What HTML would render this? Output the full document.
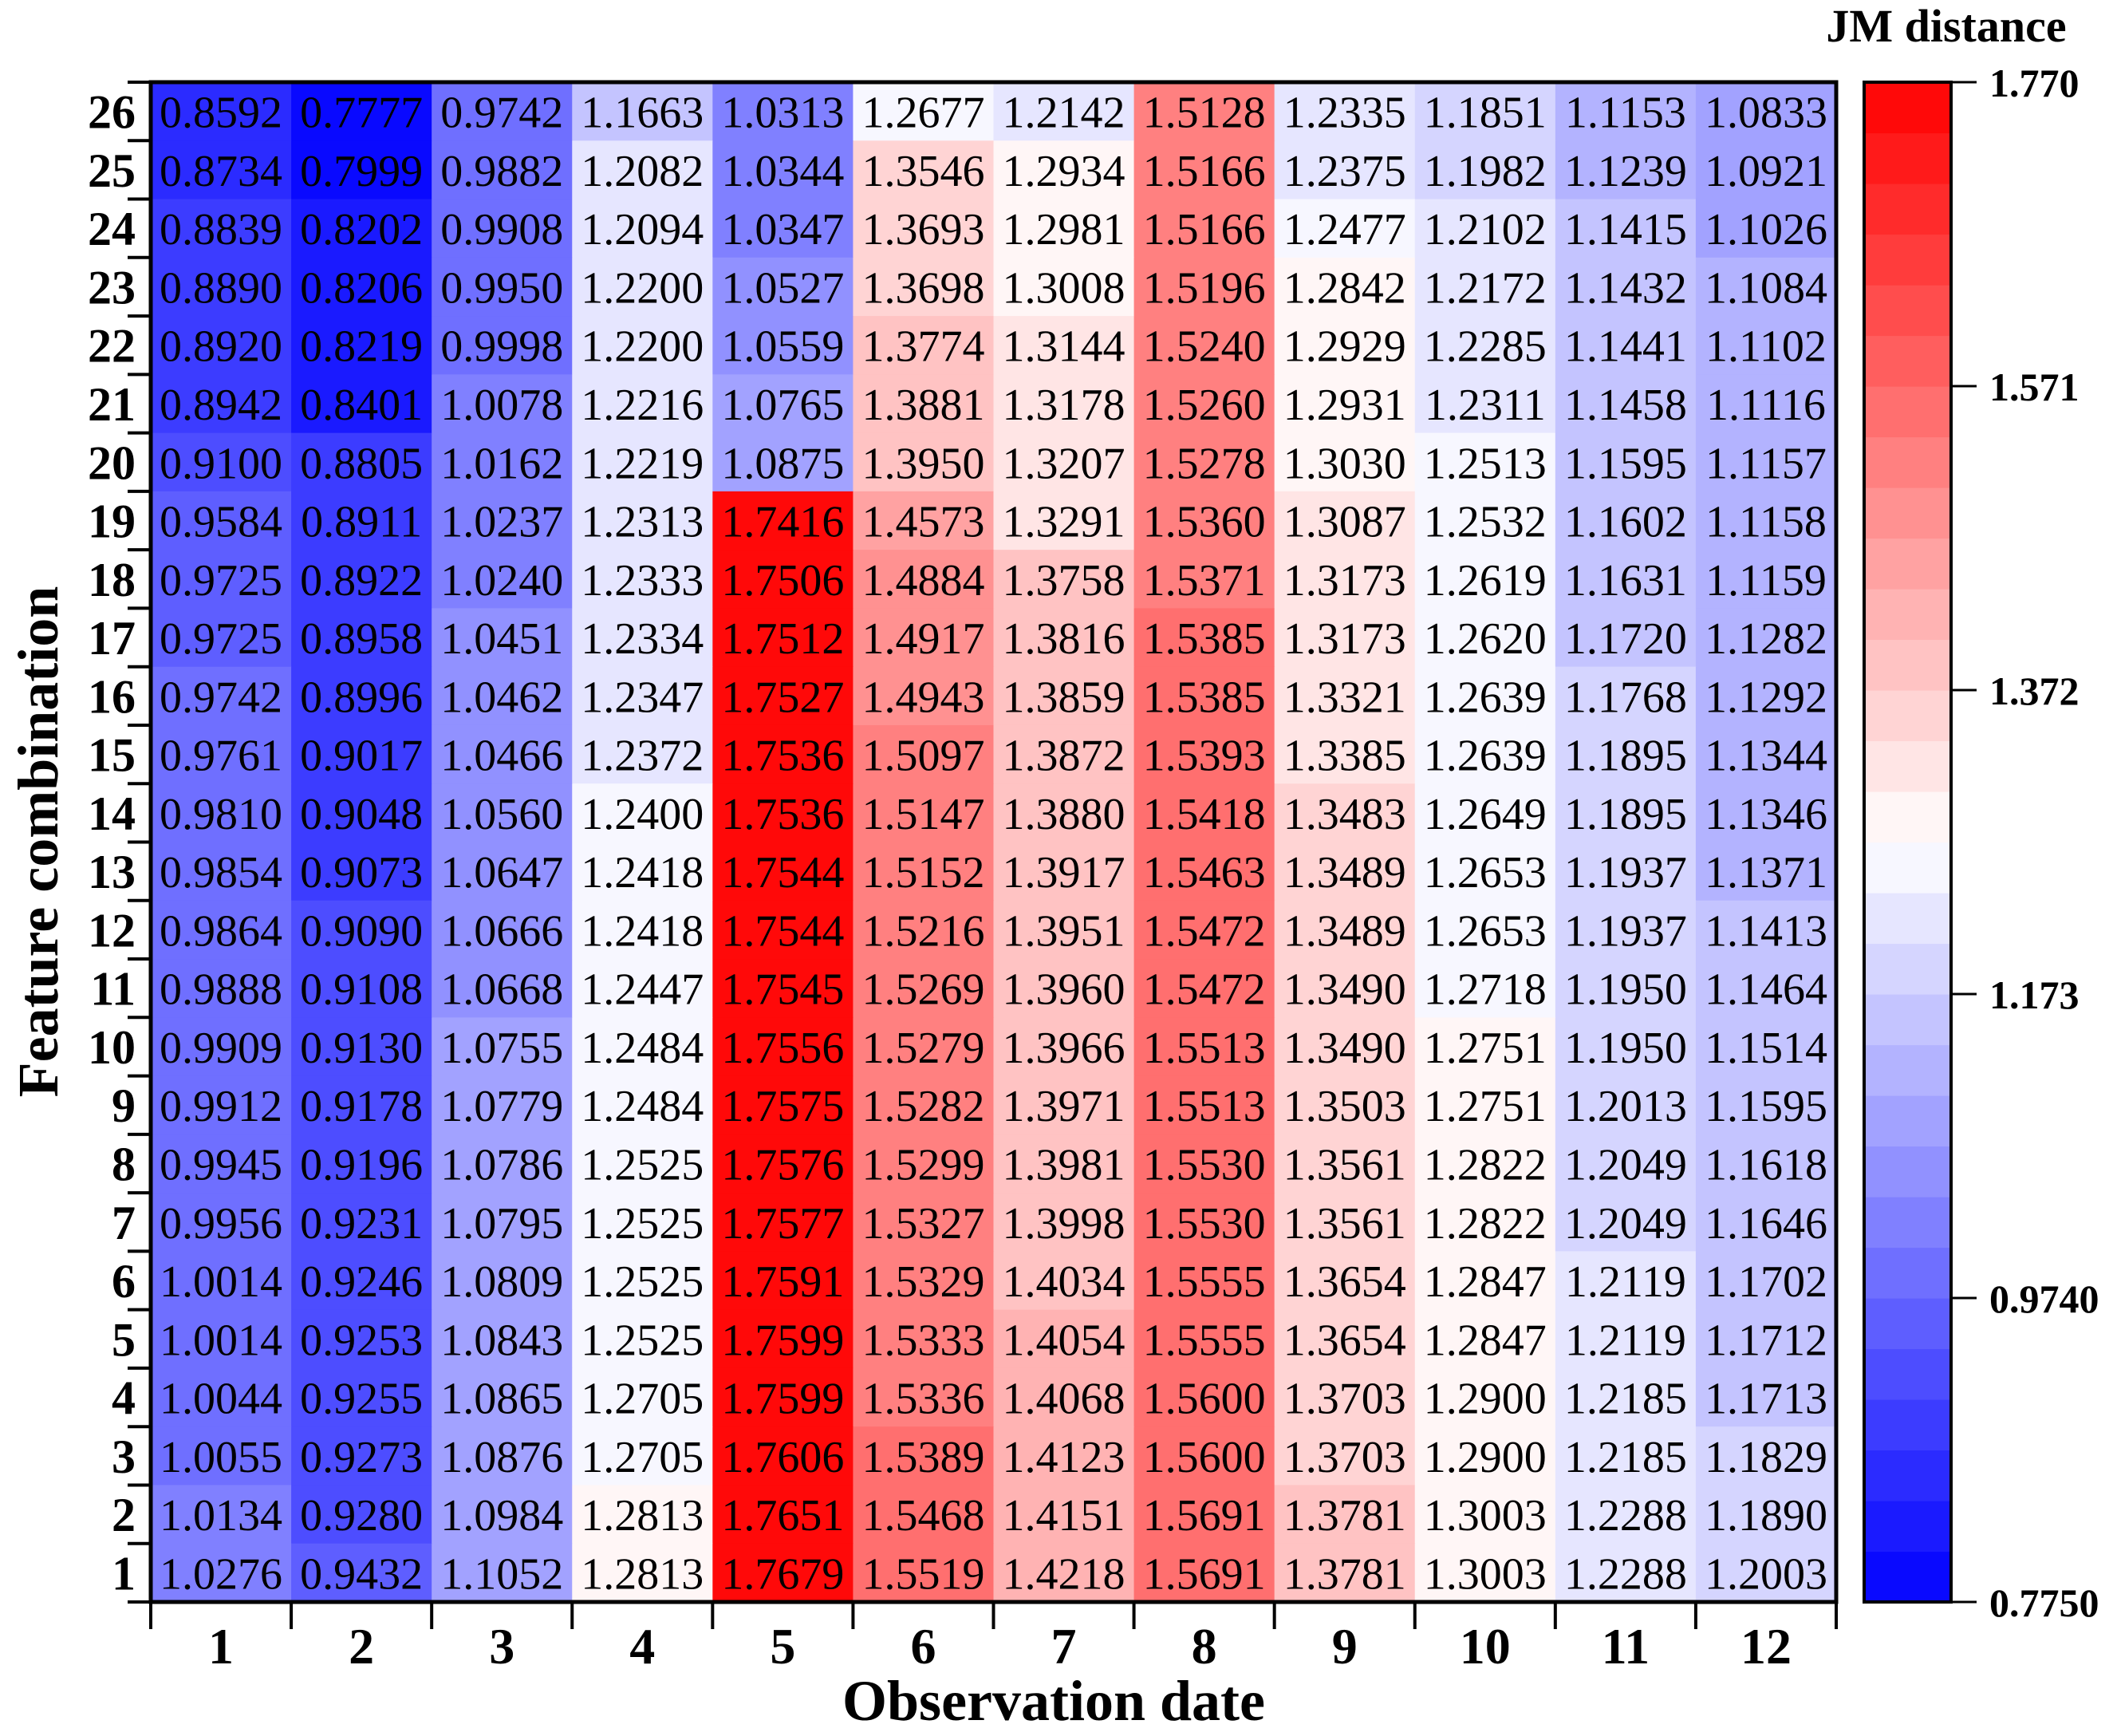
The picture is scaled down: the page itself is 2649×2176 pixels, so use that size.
<!DOCTYPE html>
<html><head><meta charset="utf-8">
<style>
html,body{margin:0;padding:0;background:#fff;}
svg{display:block;font-family:"Liberation Serif",serif;}
</style></head>
<body>
<svg id="chart" width="2649" height="2176" viewBox="0 0 2649 2176" xmlns="http://www.w3.org/2000/svg">
<g id="cells"></g>
<g id="labels"></g>
<g id="axes"></g>
<g id="cbar"></g>
<text x="1321" y="2156" font-size="72" font-weight="bold" text-anchor="middle">Observation date</text>
<text transform="translate(72,1055) rotate(-90)" font-size="72" font-weight="bold" text-anchor="middle">Feature combination</text>
<text x="2440" y="52" font-size="58" font-weight="bold" text-anchor="middle">JM distance</text>
</svg>
<script>
// Rows from top (26) to bottom (1)
const rowLabels = [26,25,24,23,22,21,20,19,18,17,16,15,14,13,12,11,10,9,8,7,6,5,4,3,2,1];
const colLabels = [1,2,3,4,5,6,7,8,9,10,11,12];
const r26=[0.8592,0.7777,0.9742,1.1663,1.0313,1.2677,1.2142,1.5128,1.2335,1.1851,1.1153,1.0833];
const r25=[0.8734,0.7999,0.9882,1.2082,1.0344,1.3546,1.2934,1.5166,1.2375,1.1982,1.1239,1.0921];
const r24=[0.8839,0.8202,0.9908,1.2094,1.0347,1.3693,1.2981,1.5166,1.2477,1.2102,1.1415,1.1026];
const r23=[0.8890,0.8206,0.9950,1.2200,1.0527,1.3698,1.3008,1.5196,1.2842,1.2172,1.1432,1.1084];
const r22=[0.8920,0.8219,0.9998,1.2200,1.0559,1.3774,1.3144,1.5240,1.2929,1.2285,1.1441,1.1102];
const r21=[0.8942,0.8401,1.0078,1.2216,1.0765,1.3881,1.3178,1.5260,1.2931,1.2311,1.1458,1.1116];
const r20=[0.9100,0.8805,1.0162,1.2219,1.0875,1.3950,1.3207,1.5278,1.3030,1.2513,1.1595,1.1157];
const r19=[0.9584,0.8911,1.0237,1.2313,1.7416,1.4573,1.3291,1.5360,1.3087,1.2532,1.1602,1.1158];
const r18=[0.9725,0.8922,1.0240,1.2333,1.7506,1.4884,1.3758,1.5371,1.3173,1.2619,1.1631,1.1159];
const r17=[0.9725,0.8958,1.0451,1.2334,1.7512,1.4917,1.3816,1.5385,1.3173,1.2620,1.1720,1.1282];
const r16=[0.9742,0.8996,1.0462,1.2347,1.7527,1.4943,1.3859,1.5385,1.3321,1.2639,1.1768,1.1292];
const r15=[0.9761,0.9017,1.0466,1.2372,1.7536,1.5097,1.3872,1.5393,1.3385,1.2639,1.1895,1.1344];
const r14=[0.9810,0.9048,1.0560,1.2400,1.7536,1.5147,1.3880,1.5418,1.3483,1.2649,1.1895,1.1346];
const r13=[0.9854,0.9073,1.0647,1.2418,1.7544,1.5152,1.3917,1.5463,1.3489,1.2653,1.1937,1.1371];
const r12=[0.9864,0.9090,1.0666,1.2418,1.7544,1.5216,1.3951,1.5472,1.3489,1.2653,1.1937,1.1413];
const r11=[0.9888,0.9108,1.0668,1.2447,1.7545,1.5269,1.3960,1.5472,1.3490,1.2718,1.1950,1.1464];
const r10=[0.9909,0.9130,1.0755,1.2484,1.7556,1.5279,1.3966,1.5513,1.3490,1.2751,1.1950,1.1514];
const r9=[0.9912,0.9178,1.0779,1.2484,1.7575,1.5282,1.3971,1.5513,1.3503,1.2751,1.2013,1.1595];
const r8=[0.9945,0.9196,1.0786,1.2525,1.7576,1.5299,1.3981,1.5530,1.3561,1.2822,1.2049,1.1618];
const r7=[0.9956,0.9231,1.0795,1.2525,1.7577,1.5327,1.3998,1.5530,1.3561,1.2822,1.2049,1.1646];
const r6=[1.0014,0.9246,1.0809,1.2525,1.7591,1.5329,1.4034,1.5555,1.3654,1.2847,1.2119,1.1702];
const r5=[1.0014,0.9253,1.0843,1.2525,1.7599,1.5333,1.4054,1.5555,1.3654,1.2847,1.2119,1.1712];
const r4=[1.0044,0.9255,1.0865,1.2705,1.7599,1.5336,1.4068,1.5600,1.3703,1.2900,1.2185,1.1713];
const r3=[1.0055,0.9273,1.0876,1.2705,1.7606,1.5389,1.4123,1.5600,1.3703,1.2900,1.2185,1.1829];
const r2=[1.0134,0.9280,1.0984,1.2813,1.7651,1.5468,1.4151,1.5691,1.3781,1.3003,1.2288,1.1890];
const r1=[1.0276,0.9432,1.1052,1.2813,1.7679,1.5519,1.4218,1.5691,1.3781,1.3003,1.2288,1.2003];
const values=[r26,r25,r24,r23,r22,r21,r20,r19,r18,r17,r16,r15,r14,r13,r12,r11,r10,r9,r8,r7,r6,r5,r4,r3,r2,r1];
const cbTicks=[0.7750,0.9740,1.173,1.372,1.571,1.770];
const cbTickLabels=["0.7750","0.9740","1.173","1.372","1.571","1.770"];
const vmin=0.775, vmax=1.770, nBands=30;

const NS="http://www.w3.org/2000/svg";
const L=189,R=2302,T=103,B=2008;
const cw=(R-L)/colLabels.length, ch=(B-T)/rowLabels.length;
const xS=i=>L+i*cw, yS=j=>T+j*ch;
const CBL=2337,CBR=2446;
const cbY=v=>B-(v-vmin)/(vmax-vmin)*(B-T);
function el(tag,attrs,parent){const e=document.createElementNS(NS,tag);for(const k in attrs)e.setAttribute(k,attrs[k]);parent.appendChild(e);return e;}
function bandColor(k){const t=(k+0.5)/nBands;let r,g,b;
 if(t<0.5){r=g=Math.round(255*t/0.5);b=255;}else{r=255;g=b=Math.round(255*(1-t)/0.5);}
 return `rgb(${r},${g},${b})`;}
function color(v){let k=Math.floor((v-vmin)/(vmax-vmin)*nBands);k=Math.max(0,Math.min(nBands-1,k));return bandColor(k);}

const gc=document.getElementById('cells'),gl=document.getElementById('labels'),ga=document.getElementById('axes'),gb=document.getElementById('cbar');
values.forEach((row,j)=>row.forEach((v,i)=>{
 const r=el('rect',{x:xS(i),y:yS(j),width:cw+0.6,height:ch+0.6,fill:color(v)},gc);
 
 
 const t=el('text',{x:xS(i)+cw/2,y:yS(j)+ch/2+20,'font-size':56,'text-anchor':'middle'},gl);
 t.textContent=v.toFixed(4);
 
 
}));
const fr=el('rect',{x:L,y:T,width:R-L,height:B-T,fill:'none',stroke:'#000','stroke-width':5},ga);


for(let j=0;j<=rowLabels.length;j++){const ln=el('line',{x1:160,x2:L,y1:yS(j),y2:yS(j),stroke:'#000','stroke-width':4},ga);
 
 }
rowLabels.forEach((lab,j)=>{const t=el('text',{x:170,y:yS(j)+ch/2+21,'font-size':60,'font-weight':'bold','text-anchor':'end'},ga);t.textContent=lab;
 
 });
for(let i=0;i<=colLabels.length;i++){const ln=el('line',{x1:xS(i),x2:xS(i),y1:B,y2:2042,stroke:'#000','stroke-width':4},ga);
 
 }
colLabels.forEach((lab,i)=>{const t=el('text',{x:xS(i)+cw/2,y:2085,'font-size':64,'font-weight':'bold','text-anchor':'middle'},ga);t.textContent=lab;
 
 });
for(let k=0;k<nBands;k++){const v0=vmin+k*(vmax-vmin)/nBands,v1=vmin+(k+1)*(vmax-vmin)/nBands;
 const r=el('rect',{x:CBL,y:cbY(v1),width:CBR-CBL,height:cbY(v0)-cbY(v1)+0.6,fill:bandColor(k)},gb);
 
 }
const cf=el('rect',{x:CBL,y:T,width:CBR-CBL,height:B-T,fill:'none',stroke:'#000','stroke-width':4},gb);


cbTicks.forEach((v,i)=>{const ln=el('line',{x1:CBR,x2:2478,y1:cbY(v),y2:cbY(v),stroke:'#000','stroke-width':3},gb);
 
 
 const t=el('text',{x:2494,y:cbY(v)+18,'font-size':50,'font-weight':'bold'},gb);t.textContent=cbTickLabels[i];
 
 });
</script>
</body></html>
